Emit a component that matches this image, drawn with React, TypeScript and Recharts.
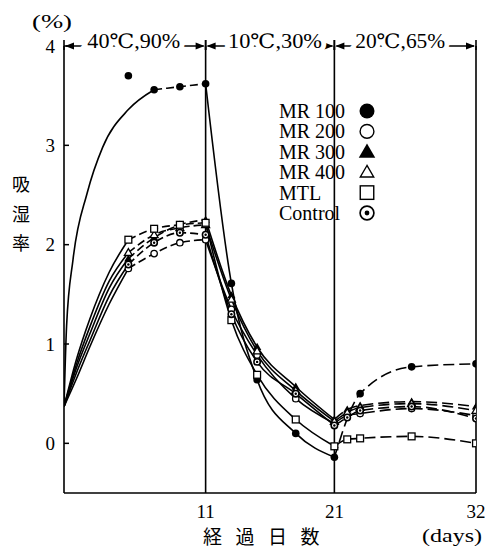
import React from 'react';
import { ComposedChart, Line, XAxis, YAxis, ReferenceLine, Legend, Label } from 'recharts';

// ---- data ----
const riseDays = [0, 1, 2, 3.5, 5];
const riseMR200 = [0.37, 0.66, 0.97, 1.4, 1.76];
const riseMR300 = [0.37, 0.77, 1.1, 1.56, 1.86];
const riseMR400 = [0.37, 0.81, 1.17, 1.63, 1.92];
const riseMTL = [0.37, 0.86, 1.25, 1.72, 2.05];
const riseControl = [0.37, 0.72, 1.03, 1.48, 1.8];
const riseDaysMR100 = [0, 0.2, 0.7, 1.8, 3, 5, 7];
const riseMR100 = [0.37, 1.18, 1.85, 2.52, 2.98, 3.36, 3.56];

const measureDays = [5, 7, 9, 11, 13, 15, 18, 21, 22, 23, 27, 32];
const mr100 = [null, 3.56, 3.59, 3.62, 1.61, 0.64, 0.1, -0.14, null, 0.5, 0.77, 0.8];
const mr200 = [1.76, 1.91, 2.02, 2.05, 1.35, 0.89, 0.45, 0.2, 0.28, 0.3, 0.35, 0.28];
const mr300 = [1.86, 2.07, 2.2, 2.25, 1.49, 0.97, 0.57, 0.24, 0.34, 0.38, 0.42, 0.37];
const mr400 = [1.92, 2.1, 2.17, 2.2, 1.45, 0.93, 0.53, 0.22, 0.31, 0.36, 0.4, 0.33];
const mtl = [2.05, 2.16, 2.2, 2.22, 1.24, 0.69, 0.24, -0.03, 0.04, 0.05, 0.07, 0.0];
const control = [1.8, 2.02, 2.12, 2.1, 1.3, 0.82, 0.5, 0.18, 0.26, 0.33, 0.37, 0.25];
const mr100OutlierDays = [5];
const mr100OutlierValues = [3.7];

const phaseBounds = [0, 11, 21, 32];
const phaseLabels = ['40℃,90%', '10℃,30%', '20℃,65%'];
const phaseLabelShift = [-1, 5, -5];
const phaseLabelWidth = [93, 94, 90];
const seriesNames = ['MR 100', 'MR 200', 'MR 300', 'MR 400', 'MTL', 'Control'];
const seriesShapes = ['filledCircle', 'openCircle', 'filledTriangle', 'openTriangle', 'openSquare', 'dotCircle'];
const xTicks = [11, 21, 32];
const yTicks = [0, 1, 2, 3, 4];

const FONT = "'Liberation Serif', 'DejaVu Serif', 'Noto Sans CJK JP', serif";

type Pt = { day: number; v: number };
const toPts = (days: number[], vals: (number | null)[]): Pt[] =>
  days.map((d, i) => ({ day: d, v: vals[i] as number })).filter((p) => p.v !== null && p.v !== undefined);
const between = (vals: (number | null)[], from: number, to: number): Pt[] =>
  toPts(measureDays, vals).filter((p) => p.day >= from && p.day <= to);

const series = [
  { name: seriesNames[0], shape: seriesShapes[0], rise: toPts(riseDaysMR100, riseMR100), vals: mr100 },
  { name: seriesNames[1], shape: seriesShapes[1], rise: toPts(riseDays, riseMR200), vals: mr200 },
  { name: seriesNames[2], shape: seriesShapes[2], rise: toPts(riseDays, riseMR300), vals: mr300 },
  { name: seriesNames[3], shape: seriesShapes[3], rise: toPts(riseDays, riseMR400), vals: mr400 },
  { name: seriesNames[4], shape: seriesShapes[4], rise: toPts(riseDays, riseMTL), vals: mtl },
  { name: seriesNames[5], shape: seriesShapes[5], rise: toPts(riseDays, riseControl), vals: control },
];

function Marker({ shape, cx, cy, r }: { shape: string; cx: number; cy: number; r: number }) {
  const sw = r > 5 ? 1.4 : 1.3;
  switch (shape) {
    case 'filledCircle':
      return <circle cx={cx} cy={cy} r={r} fill="#000" />;
    case 'openCircle':
      return <circle cx={cx} cy={cy} r={r - 0.6} fill="#fff" stroke="#000" strokeWidth={sw} />;
    case 'filledTriangle': {
      const pts = `${cx},${cy - r * 1.1} ${cx - r * 1.1},${cy + r * 0.8} ${cx + r * 1.1},${cy + r * 0.8}`;
      return <polygon points={pts} fill="#000" />;
    }
    case 'openTriangle': {
      const k = r > 5 ? 0.85 : 1;
      const pts = `${cx},${cy - r * 1.05 * k} ${cx - r * 1.05 * k},${cy + r * 0.75 * k} ${cx + r * 1.05 * k},${cy + r * 0.75 * k}`;
      return <polygon points={pts} fill="#fff" stroke="#000" strokeWidth={sw} />;
    }
    case 'openSquare': {
      const h = r * 0.9;
      return <rect x={cx - h} y={cy - h} width={2 * h} height={2 * h} fill="#fff" stroke="#000" strokeWidth={sw} />;
    }
    case 'dotCircle':
      return (
        <g>
          <circle cx={cx} cy={cy} r={r - 0.6} fill="#fff" stroke="#000" strokeWidth={sw * 1.2} />
          <circle cx={cx} cy={cy} r={r * 0.32} fill="#000" />
        </g>
      );
    default:
      return null;
  }
}

const makePhaseShape = (idx: number) => (p: any) => {
  const { x1, x2, y1 } = p;
  const y = y1;
  const a = 10;
  const h = 3.5;
  const mid = (x1 + x2) / 2 + phaseLabelShift[idx];
  return (
    <g>
      <line x1={x1 + 2} y1={y} x2={x2 - 2} y2={y} stroke="#000" strokeWidth={1.6} />
      <polygon points={`${x1 + 1},${y} ${x1 + a},${y - h} ${x1 + a},${y + h}`} fill="#000" />
      <polygon points={`${x2 - 1},${y} ${x2 - a},${y - h} ${x2 - a},${y + h}`} fill="#000" />
      <line x1={x1} y1={y - 6} x2={x1} y2={y + 4} stroke="#000" strokeWidth={1.6} />
      <line x1={x2} y1={y - 6} x2={x2} y2={y + 4} stroke="#000" strokeWidth={1.6} />
      <text
        x={mid}
        y={y + 2}
        textAnchor="middle"
        fontFamily={FONT}
        fontSize={20}
        fill="#000"
        stroke="#fff"
        strokeWidth={9}
        paintOrder="stroke"
        textLength={phaseLabelWidth[idx]}
        lengthAdjust="spacingAndGlyphs"
      >
        {phaseLabels[idx]}
      </text>
    </g>
  );
};

const YTick = (p: any) => (
  <g>
    <text x={p.x - 9} y={p.y + 6.5} textAnchor="end" fontFamily={FONT} fontSize={19} fill="#000">
      {p.payload.value}
    </text>
    <line x1={p.x} y1={p.y} x2={p.x + 5} y2={p.y} stroke="#000" strokeWidth={1.5} />
  </g>
);

const XTick = (p: any) => (
  <text x={p.x} y={p.y + 25} textAnchor="middle" fontFamily={FONT} fontSize={19} fill="#000">
    {p.payload.value}
  </text>
);

const YTitle = () => (
  <g fontFamily={FONT} fill="#000">
    <text x={52} y={28} textAnchor="middle" fontSize={19} textLength={40} lengthAdjust="spacingAndGlyphs">
      (%)
    </text>
    <text x={21} y={191} textAnchor="middle" fontSize={18}>吸</text>
    <text x={21} y={221} textAnchor="middle" fontSize={18}>湿</text>
    <text x={21} y={250} textAnchor="middle" fontSize={18}>率</text>
  </g>
);

const XTitle = () => (
  <g fontFamily={FONT} fill="#000">
    <text x={203} y={544} fontSize={19} letterSpacing={13.5}>経過日数</text>
    <text x={422} y={542} fontSize={19} textLength={60} lengthAdjust="spacingAndGlyphs">(days)</text>
  </g>
);

const LegendBox = () => (
  <svg width={190} height={130} style={{ display: 'block' }}>
    {seriesNames.map((n, i) => {
      const cy = 13 + i * 20.4;
      return (
        <g key={n}>
          <text x={9} y={cy + 7} fontFamily={FONT} fontSize={20} fill="#000">
            {n}
          </text>
          <Marker shape={seriesShapes[i]} cx={97} cy={cy} r={7.5} />
        </g>
      );
    })}
  </svg>
);

export default function App() {
  const lineProps = {
    type: 'monotone' as const,
    dataKey: 'v',
    stroke: '#000',
    strokeWidth: 1.6,
    isAnimationActive: false,
    legendType: 'none' as const,
    connectNulls: true,
  };
  return (
    <div style={{ position: 'absolute', left: 0, top: 0, background: '#fff' }}>
      <ComposedChart width={485} height={550} margin={{ top: 46, right: 9, bottom: 0, left: 0 }}>
        <XAxis
          type="number"
          dataKey="day"
          domain={[0, 32]}
          ticks={xTicks}
          allowDataOverflow
          tickLine={false}
          tickSize={0}
          tickMargin={0}
          tick={<XTick />}
          axisLine={{ stroke: '#000', strokeWidth: 1.6 }}
          height={57}
        >
          <Label content={<XTitle />} />
        </XAxis>
        <YAxis
          type="number"
          domain={[-0.5, 4]}
          ticks={yTicks}
          allowDataOverflow
          tickLine={false}
          tickSize={0}
          tickMargin={0}
          tick={<YTick />}
          axisLine={{ stroke: '#000', strokeWidth: 1.6 }}
          width={64}
        >
          <Label content={<YTitle />} />
        </YAxis>
        <ReferenceLine x={phaseBounds[1]} stroke="#000" strokeWidth={1.6} />
        <ReferenceLine x={phaseBounds[2]} stroke="#000" strokeWidth={1.6} />
        <ReferenceLine x={phaseBounds[3]} stroke="#000" strokeWidth={1.6} />
        {phaseLabels.map((l, i) => (
          <ReferenceLine
            key={l}
            segment={[
              { x: phaseBounds[i], y: 4 },
              { x: phaseBounds[i + 1], y: 4 },
            ]}
            ifOverflow="visible"
            shape={makePhaseShape(i)}
          />
        ))}
        {series.map((s) => (
          <Line key={s.name + '-rise'} {...lineProps} data={s.rise} dot={false} name={s.name + ' rise'} />
        ))}
        {series.map((s) => (
          <Line
            key={s.name + '-p1'}
            {...lineProps}
            data={between(s.vals, 0, 11)}
            dot={false}
            strokeDasharray="8 4"
            name={s.name + ' p1'}
          />
        ))}
        {series.map((s) => (
          <Line key={s.name + '-p2'} {...lineProps} data={between(s.vals, 11, 21)} dot={false} name={s.name + ' p2'} />
        ))}
        {series.map((s) => (
          <Line
            key={s.name + '-p3'}
            {...lineProps}
            data={between(s.vals, 21, 32)}
            dot={false}
            strokeDasharray="11 5"
            name={s.name + ' p3'}
          />
        ))}
        {series.map((s) => (
          <Line
            key={s.name + '-m'}
            {...lineProps}
            type="linear"
            stroke="none"
            data={toPts(measureDays, s.vals)}
            name={s.name}
            dot={(p: any) => <Marker key={`${s.name}-${p.index}`} shape={s.shape} cx={p.cx} cy={p.cy} r={3.8} />}
          />
        ))}
        <Line
          {...lineProps}
          type="linear"
          stroke="none"
          data={toPts(mr100OutlierDays, mr100OutlierValues)}
          name="MR 100 outlier"
          dot={(p: any) => <Marker key={`out-${p.index}`} shape="filledCircle" cx={p.cx} cy={p.cy} r={3.8} />}
        />
        <Legend
          layout="vertical"
          align="center"
          verticalAlign="middle"
          wrapperStyle={{ left: 270, top: 98, width: 190, height: 130 }}
          content={() => <LegendBox />}
        />
      </ComposedChart>
    </div>
  );
}
